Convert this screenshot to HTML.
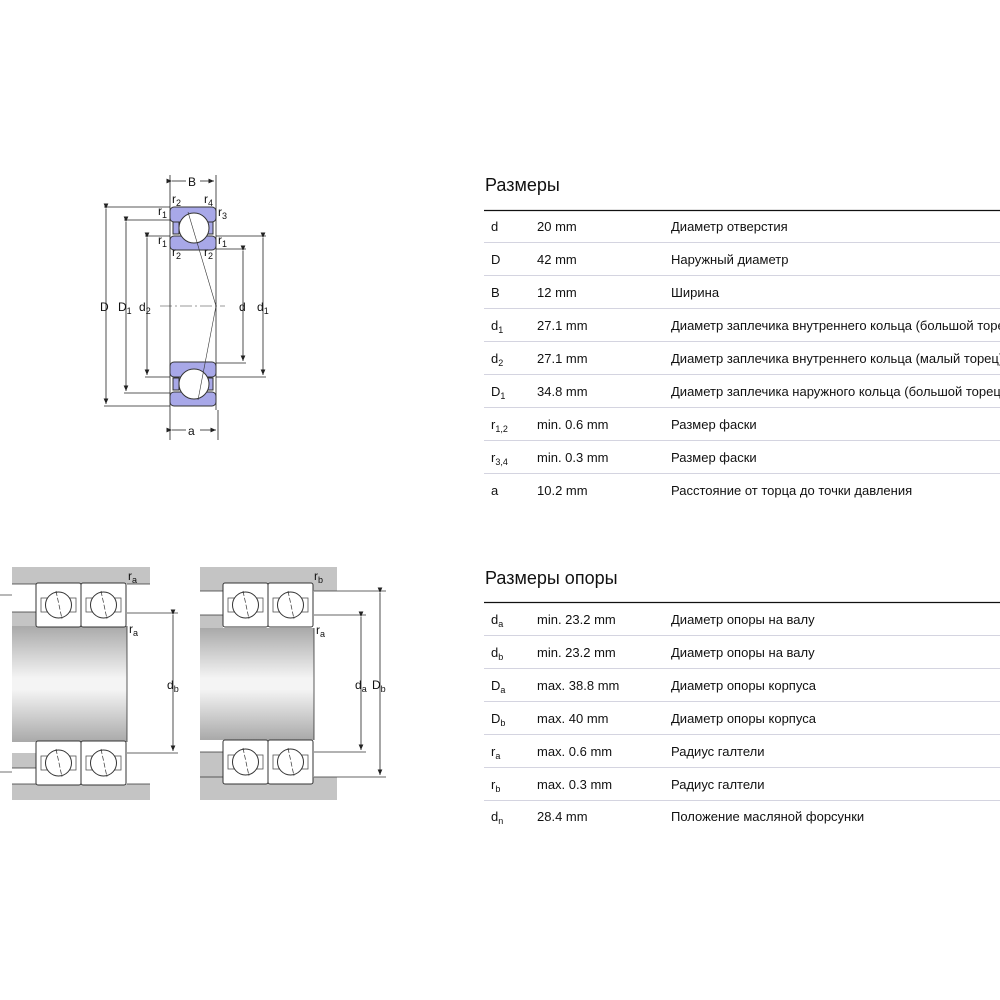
<!DOCTYPE html>
<html><head><meta charset="utf-8"><style>
html,body{margin:0;padding:0;background:#fff}
svg{display:block}
text{font-family:"Liberation Sans","DejaVu Sans",sans-serif;fill:#111}
.t{font-size:13px}
.h{font-size:18px}
.d{font-size:12px}
</style></head><body>
<svg width="1000" height="1000" viewBox="0 0 1000 1000" xmlns="http://www.w3.org/2000/svg">
<defs>
<linearGradient id="sh" x1="0" y1="0" x2="0" y2="1">
<stop offset="0" stop-color="#a9a9a9"/><stop offset="0.45" stop-color="#f4f4f4"/><stop offset="0.55" stop-color="#f4f4f4"/><stop offset="1" stop-color="#a9a9a9"/></linearGradient>
<g id="cell">
<rect x="0" y="0" width="45" height="44" rx="2" fill="#fff" stroke="#333" stroke-width="1"/>
<rect x="5" y="15" width="6" height="14" fill="#fff" stroke="#555" stroke-width="0.8"/>
<rect x="34" y="15" width="6" height="14" fill="#fff" stroke="#555" stroke-width="0.8"/>
<circle cx="22.5" cy="22" r="13" fill="#fff" stroke="#333" stroke-width="1"/>
<line x1="20" y1="8" x2="26" y2="36" stroke="#333" stroke-width="0.7" stroke-dasharray="5,2"/>
</g>
<marker id="ar" markerWidth="8" markerHeight="8" refX="7" refY="3" orient="auto"><path d="M0,0 L7,3 L0,6z" fill="#222"/></marker>
</defs>

<!-- top bearing drawing -->
<g stroke="#222" stroke-width="0.8" fill="none">
<line x1="170" y1="175" x2="170" y2="440"/><line x1="216" y1="175" x2="216" y2="410"/>
<line x1="218" y1="410" x2="218" y2="440"/>
<line x1="104" y1="207" x2="170" y2="207"/><line x1="104" y1="406" x2="170" y2="406"/>
<line x1="124" y1="220" x2="170" y2="220"/><line x1="124" y1="393" x2="170" y2="393"/>
<line x1="145" y1="236" x2="170" y2="236"/><line x1="145" y1="377" x2="170" y2="377"/>
<line x1="216" y1="236" x2="266" y2="236"/><line x1="216" y1="377" x2="266" y2="377"/>
<line x1="216" y1="249" x2="246" y2="249"/><line x1="216" y1="363" x2="246" y2="363"/>
</g>
<g stroke="#222" stroke-width="0.8" marker-end="url(#ar)" marker-start="url(#ar)">
<line x1="106" y1="209" x2="106" y2="404"/>
<line x1="126" y1="222" x2="126" y2="391"/>
<line x1="147" y1="238" x2="147" y2="375"/>
<line x1="243" y1="251" x2="243" y2="361"/>
<line x1="263" y1="238" x2="263" y2="375"/>
</g>
<g stroke="#222" stroke-width="0.8">
<line x1="172" y1="181" x2="186" y2="181" marker-start="url(#ar)"/><line x1="200" y1="181" x2="214" y2="181" marker-end="url(#ar)"/>
<line x1="172" y1="430" x2="186" y2="430" marker-start="url(#ar)"/><line x1="200" y1="430" x2="216" y2="430" marker-end="url(#ar)"/>
</g>
<!-- rings -->
<g stroke="#333" stroke-width="1" fill="#a8a8e8">
<rect x="170" y="207" width="46" height="15" rx="4"/>
<rect x="170" y="236" width="46" height="14" rx="4"/>
<rect x="170" y="362" width="46" height="15" rx="4"/>
<rect x="170" y="392" width="46" height="14" rx="4"/>
<rect x="173" y="222" width="6" height="12"/><rect x="207" y="222" width="6" height="12"/>
<rect x="173" y="378" width="6" height="12"/><rect x="207" y="378" width="6" height="12"/>
</g>
<circle cx="194" cy="228" r="15" fill="#fff" stroke="#333"/>
<circle cx="194" cy="384" r="15" fill="#fff" stroke="#333"/>
<g stroke="#333" stroke-width="0.6" fill="none">
<line x1="188" y1="212" x2="216" y2="306"/><line x1="216" y1="306" x2="198" y2="400"/>
<line x1="160" y1="306" x2="225" y2="306" stroke-dasharray="12,3,2,3"/>
</g>
<g class="d">
<text x="188" y="186">B</text><text x="188" y="435">a</text>
<text x="100" y="311">D</text><text x="118" y="311">D<tspan font-size="9" dy="3">1</tspan></text>
<text x="139" y="311">d<tspan font-size="9" dy="3">2</tspan></text>
<text x="239" y="311">d</text><text x="257" y="311">d<tspan font-size="9" dy="3">1</tspan></text>
<text x="172" y="203">r<tspan font-size="9" dy="3">2</tspan></text><text x="204" y="203">r<tspan font-size="9" dy="3">4</tspan></text>
<text x="158" y="215">r<tspan font-size="9" dy="3">1</tspan></text><text x="218" y="216">r<tspan font-size="9" dy="3">3</tspan></text>
<text x="158" y="244">r<tspan font-size="9" dy="3">1</tspan></text><text x="218" y="244">r<tspan font-size="9" dy="3">1</tspan></text>
<text x="172" y="256">r<tspan font-size="9" dy="3">2</tspan></text><text x="204" y="256">r<tspan font-size="9" dy="3">2</tspan></text>
</g>

<!-- lower left -->
<rect x="12" y="567" width="138" height="17" fill="#c4c4c4"/>
<rect x="12" y="784" width="138" height="16" fill="#c4c4c4"/>
<rect x="12" y="612" width="24" height="14" fill="#c4c4c4"/>
<rect x="12" y="753" width="24" height="15" fill="#c4c4c4"/>
<rect x="12" y="626" width="115" height="116" fill="url(#sh)"/>
<g stroke="#333" stroke-width="0.8">
<line x1="12" y1="584" x2="36" y2="584"/><line x1="127" y1="584" x2="150" y2="584"/>
<line x1="12" y1="612" x2="36" y2="612"/><line x1="127" y1="613" x2="150" y2="613"/>
<line x1="12" y1="768" x2="36" y2="768"/><line x1="127" y1="753" x2="150" y2="753"/>
<line x1="127" y1="784" x2="150" y2="784"/><line x1="12" y1="784" x2="36" y2="784"/>
<line x1="127" y1="626" x2="127" y2="742"/>
</g>
<use href="#cell" x="36" y="583"/><use href="#cell" x="81" y="583"/>
<use href="#cell" x="36" y="741"/><use href="#cell" x="81" y="741"/>
<g stroke="#333" stroke-width="0.7"><line x1="150" y1="613" x2="178" y2="613"/><line x1="150" y1="753" x2="178" y2="753"/>
<line x1="0" y1="595" x2="12" y2="595"/><line x1="0" y1="772" x2="12" y2="772"/></g>
<line x1="173" y1="615" x2="173" y2="751" stroke="#222" stroke-width="0.8" marker-start="url(#ar)" marker-end="url(#ar)"/>
<g class="d"><text x="128" y="580">r<tspan font-size="9" dy="3">a</tspan></text>
<text x="129" y="633">r<tspan font-size="9" dy="3">a</tspan></text>
<text x="167" y="689">d<tspan font-size="9" dy="3">b</tspan></text></g>

<!-- lower right -->
<rect x="200" y="567" width="137" height="24" fill="#c4c4c4"/>
<rect x="200" y="777" width="137" height="23" fill="#c4c4c4"/>
<rect x="200" y="615" width="23" height="13" fill="#c4c4c4"/>
<rect x="200" y="752" width="23" height="25" fill="#c4c4c4"/>
<rect x="200" y="783" width="23" height="17" fill="#c4c4c4"/>
<rect x="200" y="628" width="114" height="112" fill="url(#sh)"/>
<g stroke="#333" stroke-width="0.8">
<line x1="200" y1="591" x2="223" y2="591"/><line x1="314" y1="591" x2="337" y2="591"/>
<line x1="200" y1="615" x2="223" y2="615"/><line x1="314" y1="615" x2="337" y2="615"/>
<line x1="200" y1="752" x2="223" y2="752"/><line x1="314" y1="752" x2="337" y2="752"/>
<line x1="200" y1="777" x2="223" y2="777"/><line x1="314" y1="777" x2="337" y2="777"/>
<line x1="314" y1="628" x2="314" y2="740"/>
</g>
<use href="#cell" x="223" y="583"/><use href="#cell" x="268" y="583"/>
<use href="#cell" x="223" y="740"/><use href="#cell" x="268" y="740"/>
<g stroke="#333" stroke-width="0.7"><line x1="337" y1="591" x2="386" y2="591"/><line x1="337" y1="777" x2="386" y2="777"/>
<line x1="337" y1="615" x2="366" y2="615"/><line x1="337" y1="752" x2="366" y2="752"/></g>
<line x1="361" y1="617" x2="361" y2="750" stroke="#222" stroke-width="0.8" marker-start="url(#ar)" marker-end="url(#ar)"/>
<line x1="380" y1="593" x2="380" y2="775" stroke="#222" stroke-width="0.8" marker-start="url(#ar)" marker-end="url(#ar)"/>
<g class="d"><text x="314" y="580">r<tspan font-size="9" dy="3">b</tspan></text>
<text x="316" y="634">r<tspan font-size="9" dy="3">a</tspan></text>
<text x="355" y="689">d<tspan font-size="9" dy="3">a</tspan></text>
<text x="372" y="689">D<tspan font-size="9" dy="3">b</tspan></text></g>

<!-- table 1 -->
<text class="h" x="485" y="191">Размеры</text>
<line x1="484" y1="210.5" x2="1000" y2="210.5" stroke="#111" stroke-width="1.3"/>
<g stroke="#d4d4e0" stroke-width="1">
<line x1="484" y1="242.5" x2="1000" y2="242.5"/><line x1="484" y1="275.5" x2="1000" y2="275.5"/>
<line x1="484" y1="308.5" x2="1000" y2="308.5"/><line x1="484" y1="341.5" x2="1000" y2="341.5"/>
<line x1="484" y1="374.5" x2="1000" y2="374.5"/><line x1="484" y1="407.5" x2="1000" y2="407.5"/>
<line x1="484" y1="440.5" x2="1000" y2="440.5"/><line x1="484" y1="473.5" x2="1000" y2="473.5"/>
</g>
<g class="t">
<text x="491" y="231">d</text><text x="537" y="231">20 mm</text><text x="671" y="231">Диаметр отверстия</text>
<text x="491" y="264">D</text><text x="537" y="264">42 mm</text><text x="671" y="264">Наружный диаметр</text>
<text x="491" y="297">B</text><text x="537" y="297">12 mm</text><text x="671" y="297">Ширина</text>
<text x="491" y="330">d<tspan font-size="9" dy="3">1</tspan></text><text x="537" y="330">27.1 mm</text><text x="671" y="330">Диаметр заплечика внутреннего кольца (большой торец)</text>
<text x="491" y="363">d<tspan font-size="9" dy="3">2</tspan></text><text x="537" y="363">27.1 mm</text><text x="671" y="363">Диаметр заплечика внутреннего кольца (малый торец)</text>
<text x="491" y="396">D<tspan font-size="9" dy="3">1</tspan></text><text x="537" y="396">34.8 mm</text><text x="671" y="396">Диаметр заплечика наружного кольца (большой торец)</text>
<text x="491" y="429">r<tspan font-size="9" dy="3">1,2</tspan></text><text x="537" y="429">min. 0.6 mm</text><text x="671" y="429">Размер фаски</text>
<text x="491" y="462">r<tspan font-size="9" dy="3">3,4</tspan></text><text x="537" y="462">min. 0.3 mm</text><text x="671" y="462">Размер фаски</text>
<text x="491" y="495">a</text><text x="537" y="495">10.2 mm</text><text x="671" y="495">Расстояние от торца до точки давления</text>
</g>

<!-- table 2 -->
<text class="h" x="485" y="584">Размеры опоры</text>
<line x1="484" y1="602.5" x2="1000" y2="602.5" stroke="#111" stroke-width="1.3"/>
<g stroke="#d4d4e0" stroke-width="1">
<line x1="484" y1="635.5" x2="1000" y2="635.5"/><line x1="484" y1="668.5" x2="1000" y2="668.5"/>
<line x1="484" y1="701.5" x2="1000" y2="701.5"/><line x1="484" y1="734.5" x2="1000" y2="734.5"/>
<line x1="484" y1="767.5" x2="1000" y2="767.5"/><line x1="484" y1="800.5" x2="1000" y2="800.5"/>
</g>
<g class="t">
<text x="491" y="624">d<tspan font-size="9" dy="3">a</tspan></text><text x="537" y="624">min. 23.2 mm</text><text x="671" y="624">Диаметр опоры на валу</text>
<text x="491" y="657">d<tspan font-size="9" dy="3">b</tspan></text><text x="537" y="657">min. 23.2 mm</text><text x="671" y="657">Диаметр опоры на валу</text>
<text x="491" y="690">D<tspan font-size="9" dy="3">a</tspan></text><text x="537" y="690">max. 38.8 mm</text><text x="671" y="690">Диаметр опоры корпуса</text>
<text x="491" y="723">D<tspan font-size="9" dy="3">b</tspan></text><text x="537" y="723">max. 40 mm</text><text x="671" y="723">Диаметр опоры корпуса</text>
<text x="491" y="756">r<tspan font-size="9" dy="3">a</tspan></text><text x="537" y="756">max. 0.6 mm</text><text x="671" y="756">Радиус галтели</text>
<text x="491" y="789">r<tspan font-size="9" dy="3">b</tspan></text><text x="537" y="789">max. 0.3 mm</text><text x="671" y="789">Радиус галтели</text>
<text x="491" y="821">d<tspan font-size="9" dy="3">n</tspan></text><text x="537" y="821">28.4 mm</text><text x="671" y="821">Положение масляной форсунки</text>
</g>
</svg>
</body></html>
